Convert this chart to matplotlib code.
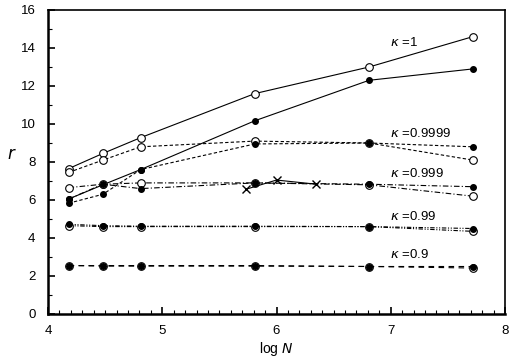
import numpy as np
import matplotlib
matplotlib.use('Agg')
import matplotlib.pyplot as plt
from matplotlib.ticker import MultipleLocator

plt.rcParams['font.family'] = ['Liberation Sans', 'DejaVu Sans']

logN = [4.18, 4.48, 4.81, 5.81, 6.81, 7.72]

# kappa = 1
k1_open = [7.65, 8.45, 9.28, 11.6, 13.0, 14.6]
k1_fill = [6.05, 6.8, 7.6, 10.17, 12.3, 12.9]
# kappa = 0.9999
k4_open = [7.45, 8.1, 8.8, 9.1, 9.0, 8.1]
k4_fill = [5.83, 6.3, 7.6, 8.95, 9.0, 8.8]
# kappa = 0.999
k3_open = [6.65, 6.83, 6.9, 6.9, 6.8, 6.2]
k3_fill = [6.05, 6.83, 6.6, 6.9, 6.83, 6.7]
k3_x_logN = [5.73, 6.0, 6.35]
k3_x = [6.56, 7.05, 6.83]
# kappa = 0.99
k2_open = [4.65, 4.6, 4.6, 4.6, 4.6, 4.35]
k2_fill = [4.72, 4.65, 4.62, 4.62, 4.6, 4.5]
# kappa = 0.9
k9_open = [2.55, 2.52, 2.52, 2.52, 2.5, 2.42]
k9_fill = [2.55, 2.55, 2.55, 2.55, 2.5, 2.5]

labels = ['=1', '=0.9999', '=0.999', '=0.99', '=0.9']
label_y = [14.3, 9.5, 7.4, 5.15, 3.15]

fig = plt.figure(figsize=(5.16, 3.63), dpi=100)
ax = fig.add_axes([48/516, 49/363, 457/516, 304/363])

lw = 0.8
ofmt = dict(marker='o', ms=5.5, mfc='white', mec='black', mew=0.8, color='black', lw=lw)
ffmt = dict(marker='o', ms=4, mfc='black', mec='black', color='black', lw=lw)

ax.plot(logN, k1_open, '-', **ofmt)
ax.plot(logN, k1_fill, '-', **ffmt)
ax.plot(logN, k4_open, **ofmt, ls=(0, (3, 2)))
ax.plot(logN, k4_fill, **ffmt, ls=(0, (3, 2)))
ax.plot(logN, k3_open, **ofmt, ls=(0, (5, 2, 1, 2)))
ax.plot(logN, k3_fill, **ffmt, ls=(0, (5, 2, 1, 2)))
ax.plot(k3_x_logN, k3_x, marker='x', ms=6, color='black', lw=lw, ls='-')
ax.plot(logN, k2_open, **ofmt, ls=(0, (4, 1.5, 1, 1.5, 1, 1.5)))
ax.plot(logN, k2_fill, **ffmt, ls=(0, (4, 1.5, 1, 1.5, 1, 1.5)))
ax.plot(logN, k9_open, **ofmt, ls=(0, (5, 4)))
ax.plot(logN, k9_fill, **ffmt, ls=(0, (5, 4)))

for t, yy in zip(labels, label_y):
    ax.text(6.99, yy, r'$\kappa$ ' + t, fontsize=9.5, ha='left', va='center')

ax.set_xlim(4, 8)
ax.set_ylim(0, 16)
ax.xaxis.set_major_locator(MultipleLocator(1))
ax.xaxis.set_minor_locator(MultipleLocator(0.1))
ax.yaxis.set_major_locator(MultipleLocator(2))
ax.yaxis.set_minor_locator(MultipleLocator(1))
ax.tick_params(which='both', direction='in', labelsize=9.5)
ax.tick_params(which='major', length=5, width=1.2)
ax.tick_params(which='minor', length=3, width=0.8)
ax.tick_params(axis='x', pad=8)
ax.tick_params(axis='y', pad=9)
for s in ['left', 'bottom']:
    ax.spines[s].set_linewidth(1.8)
for s in ['top', 'right']:
    ax.spines[s].set_linewidth(1.2)

ax.set_xlabel(r'log $N$', fontsize=10, labelpad=2)
ax.set_ylabel(r'$r$', fontsize=12, rotation=0, labelpad=6)

fig.savefig('out.png', dpi=100)
